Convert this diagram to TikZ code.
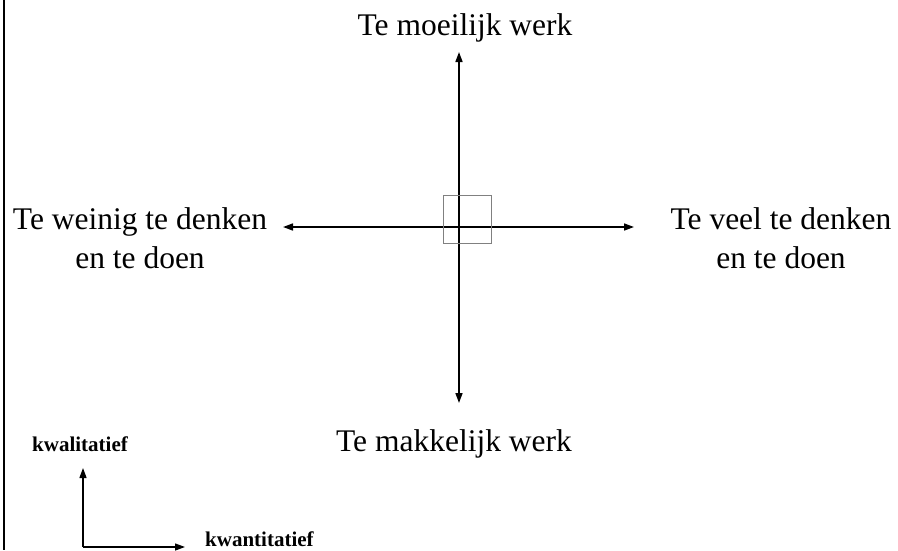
\documentclass[tikz,border=0pt]{standalone}
\usepackage{fontspec}
\setmainfont{Liberation Serif}
\usetikzlibrary{arrows.meta}
\begin{document}
\begin{tikzpicture}[x=1pt,y=-1pt,
  big/.style={inner sep=0pt,anchor=base,font=\fontsize{31.5}{39}\selectfont},
  small/.style={inner sep=0pt,anchor=base,font=\fontsize{21}{25}\selectfont\bfseries},
  axis/.style={line width=1.6pt,{Triangle[length=10pt,width=7pt]}-{Triangle[length=10pt,width=7pt]}},
  minor/.style={line width=1.3pt,-{Triangle[length=10pt,width=7pt]}}]
\useasboundingbox (0,0) rectangle (898,550);
\fill[white] (0,0) rectangle (898,550);
\draw[line width=2pt] (4,0) -- (4,550);
% labels
\node[big] (top) at (465,35) {Te moeilijk werk};
\node[big] (bot) at (454,451) {Te makkelijk werk};
\node[big] (left1) at (140,229) {Te weinig te denken};
\node[big] (left2) at (140,268) {en te doen};
\node[big] (right1) at (781,229) {Te veel te denken};
\node[big] (right2) at (781,268) {en te doen};
% axes
\coordinate (N) at (459,52);
\coordinate (S) at (459,403);
\coordinate (W) at (283,227);
\coordinate (E) at (634,227);
\draw[axis] (N) -- (S);
\draw[axis] (W) -- (E);
\node[draw=gray,line width=1pt,minimum size=48pt,inner sep=0pt] (box) at (467,219) {};
% small legend
\node[small,anchor=base west] (kwal) at (32,451) {kwalitatief};
\node[small,anchor=base west] (kwan) at (205,546) {kwantitatief};
\coordinate (O) at (83,547);
\coordinate (Up) at (83,468);
\coordinate (Rt) at (185,547);
\draw[minor] (O) -- (Up);
\draw[minor] (O) -- (Rt);
\end{tikzpicture}
\end{document}
